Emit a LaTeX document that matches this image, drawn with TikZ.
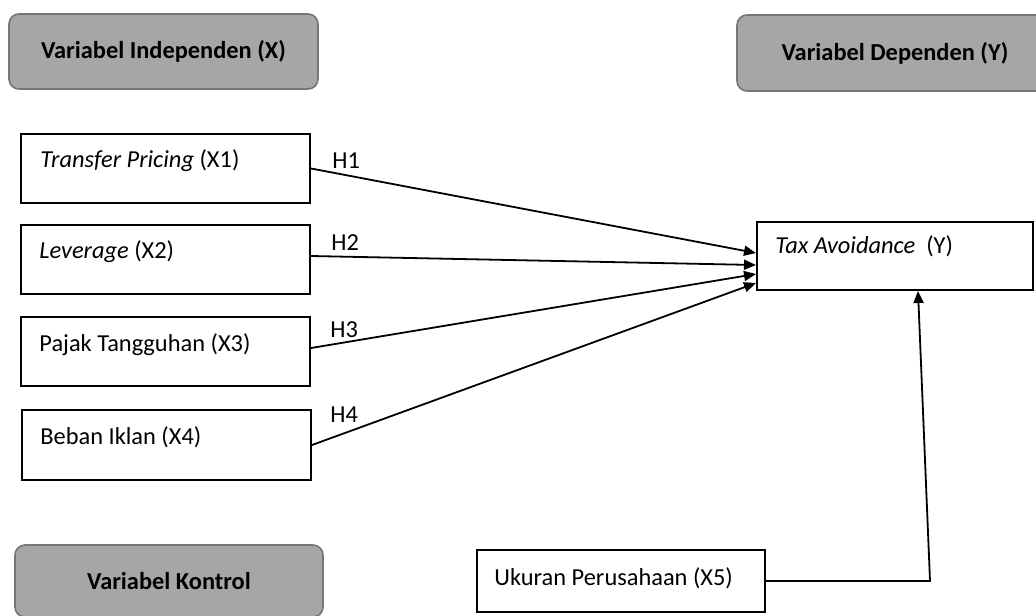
\documentclass[tikz,border=0pt]{standalone}
\usepackage{fontspec}
\setmainfont{Carlito}
\usetikzlibrary{arrows.meta,calc}
\definecolor{hdrfill}{RGB}{166,166,166}
\definecolor{hdrdraw}{RGB}{118,118,118}
\begin{document}
\begin{tikzpicture}[x=0.5pt,y=-0.5pt,
  hdr/.style={draw=hdrdraw, fill=hdrfill, line width=0.8pt, rounded corners=5pt, font=\fontsize{12.2}{14}\selectfont\bfseries, inner sep=0pt},
  varbox/.style={draw=black, line width=1pt, inner sep=0pt},
  lbl/.style={font=\fontsize{12.2}{14}\selectfont, inner sep=0pt, anchor=base west},
  arr/.style={draw=black, line width=0.9pt, -{Triangle[length=6pt,width=5pt]}}]
\path[use as bounding box] (0,0) rectangle (1036,615);
\clip (0,0) rectangle (1036,615);
% header boxes
\node[hdr, minimum width=154.5pt, minimum height=37.5pt] (hx) at (163.5,51.5) {Variabel Independen (X)};
\node[hdr, minimum width=158pt, minimum height=38pt] (hy) at (895,53) {Variabel Dependen (Y)};
\node[hdr, minimum width=154pt, minimum height=36pt] (hk) at (169,581) {Variabel Kontrol};
% variable boxes
\node[varbox, minimum width=144.5pt, minimum height=34.5pt] (x1) at (165.5,168.5) {};
\node[varbox, minimum width=144.5pt, minimum height=34.5pt] (x2) at (165.5,259.5) {};
\node[varbox, minimum width=144.5pt, minimum height=34.5pt] (x3) at (165.5,351.5) {};
\node[varbox, minimum width=144.5pt, minimum height=35pt] (x4) at (166.5,445) {};
\node[varbox, minimum width=138pt, minimum height=34pt] (y) at (895,256) {};
\node[varbox, minimum width=144pt, minimum height=31pt] (x5) at (621,581) {};
% texts
\node[lbl] (t1) at (40,167) {\textit{Transfer Pricing} (X1)};
\node[lbl] (t2) at (39,258) {\textit{Leverage} (X2)};
\node[lbl] (t3) at (39,351) {Pajak Tangguhan (X3)};
\node[lbl] (t4) at (40,444) {Beban Iklan (X4)};
\node[lbl] (ty) at (775,253) {\textit{Tax Avoidance}\ \ (Y)};
\node[lbl] (t5) at (494,585) {Ukuran Perusahaan (X5)};
% hypothesis labels
\node[lbl] (h1) at (332,168) {H1};
\node[lbl] (h2) at (331,250) {H2};
\node[lbl] (h3) at (330,337) {H3};
\node[lbl] (h4) at (330,422) {H4};
% arrows
\draw[arr] (x1.east) -- ($(y.west)+(0,-3)$);
\draw[arr] ($(x2.east)+(0,-3.5)$) -- ($(y.west)+(0,9)$);
\draw[arr] ($(x3.east)+(0,-3.5)$) -- ($(y.west)+(0,18)$);
\draw[arr] (x4.east) -- ($(y.west)+(0,27)$);
\coordinate (c5) at (930,581);
\draw[arr] (x5.east) -- (c5) -- ($(y.south)+(23,0)$);
\end{tikzpicture}
\end{document}
